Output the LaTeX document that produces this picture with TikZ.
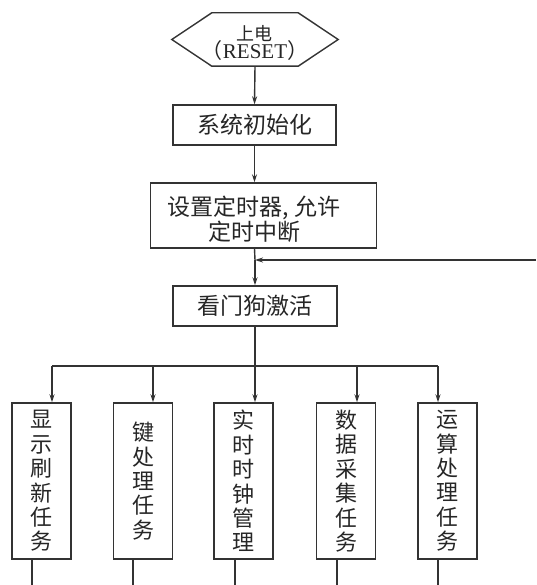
\documentclass[tikz,border=0pt]{standalone}
\usepackage{fontspec}
\setmainfont{Liberation Serif}
\newfontfamily\cjk{Noto Sans CJK SC}
\usetikzlibrary{arrows.meta,calc}
\begin{document}
\begin{tikzpicture}[x=1pt,y=-1pt,
  line/.style={draw=black!80,line width=1.4pt},
  arr/.style={line,-{Stealth[length=8pt,width=5pt]}},
  hbox/.style={line,rectangle,inner sep=0pt,text=black!85,font=\cjk\fontsize{23}{25}\selectfont,align=center},
  vbox/.style={line,rectangle,inner sep=0pt,minimum width=59pt,minimum height=156pt,text=black!85,font=\cjk\fontsize{22}{24.4}\selectfont,align=center}]
\useasboundingbox (0,0) rectangle (536,585);
% start hexagon
\node (start) [inner sep=0pt,minimum width=166pt,minimum height=53pt,align=center,text=black!85] at (255,39.5) {};
\draw[line] (start.west) -- ([xshift=40pt]start.north west) -- ([xshift=-40pt]start.north east) -- (start.east) -- ([xshift=-40pt]start.south east) -- ([xshift=40pt]start.south west) -- cycle;
\node (t1) [text=black!85,inner sep=0pt,font=\cjk\fontsize{18}{18}\selectfont] at (254,34) {上电};
\node (t2) [text=black!85,inner sep=0pt,font=\fontsize{21}{21}\selectfont] at (255,51) {{\cjk （}RESET{\cjk ）}};
% boxes
\node (b1) [hbox,minimum width=163pt,minimum height=40pt] at (254.5,125) {系统初始化};
\node (b2) [hbox,minimum width=226pt,minimum height=65pt] at (263.5,215.5) {};
\node (b2t) [text=black!85,inner sep=0pt,align=center,font=\cjk\fontsize{23}{25}\selectfont] at (254,219) {设置定时器, 允许\\定时中断};
\node (b3) [hbox,minimum width=164pt,minimum height=40pt] at (255,306) {看门狗激活};
% tasks
\node (k1) [vbox] at (41.5,481) {显\\示\\刷\\新\\任\\务};
\node (k2) [vbox] at (143,481) {键\\处\\理\\任\\务};
\node (k3) [vbox] at (243.5,481) {实\\时\\时\\钟\\管\\理};
\node (k4) [vbox] at (346,481) {数\\据\\采\\集\\任\\务};
\node (k5) [vbox] at (447.5,481) {运\\算\\处\\理\\任\\务};
% connectors
\draw[arr] (start.south) -- (b1.north);
\draw[arr] (b1.south) -- (b1.south |- b2.north);
\coordinate (fb) at (536,260);
\coordinate (m) at (b3.north |- fb);
\draw[line] (b1.south |- b2.south) -- (m);
\draw[arr] (fb) -- (m);
\draw[arr] (m) -- (b3.north);
\coordinate (busC) at (255,366);
\draw[line] (b3.south) -- (busC);
\coordinate (a1) at (52,366);
\coordinate (a2) at (153,366);
\coordinate (a3) at (255,366);
\coordinate (a4) at (357,366);
\coordinate (a5) at (438,366);
\draw[line] (a1) -- (a5);
\draw[arr] (a1) -- (a1 |- k1.north);
\draw[arr] (a2) -- (a2 |- k2.north);
\draw[arr] (a3) -- (a3 |- k3.north);
\draw[arr] (a4) -- (a4 |- k4.north);
\draw[arr] (a5) -- (a5 |- k5.north);
\coordinate (e1) at (32,585);
\coordinate (e2) at (133,585);
\coordinate (e3) at (235,585);
\coordinate (e4) at (337,585);
\coordinate (e5) at (438,585);
\draw[line] (e1 |- k1.south) -- (e1);
\draw[line] (e2 |- k2.south) -- (e2);
\draw[line] (e3 |- k3.south) -- (e3);
\draw[line] (e4 |- k4.south) -- (e4);
\draw[line] (e5 |- k5.south) -- (e5);
\end{tikzpicture}
\end{document}
